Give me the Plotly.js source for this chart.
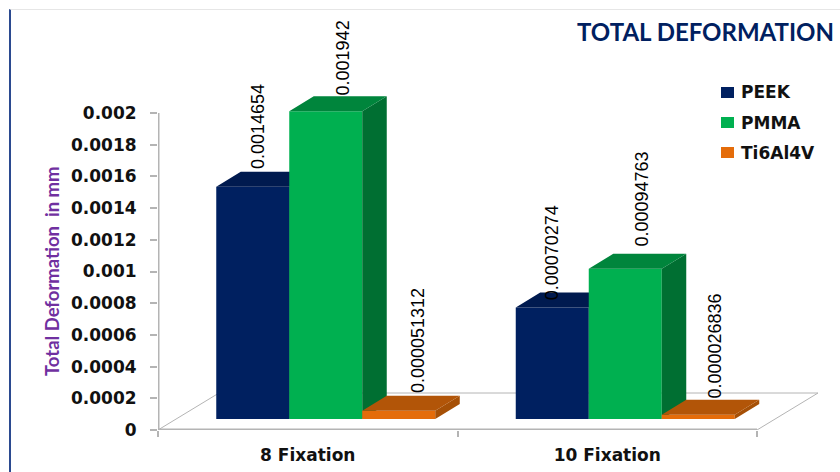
<!DOCTYPE html>
<html>
<head>
<meta charset="utf-8">
<script src="https://cdn.plot.ly/plotly-3.0.1.min.js"></script>
<style>
  html, body { margin: 0; padding: 0; background: #fff; width: 840px; height: 472px; overflow: hidden; }
  #frame { position: absolute; left: 9px; top: 9px; right: 0; bottom: 0; border-left: 2px solid #2b4a90; border-top: 1px solid #e6e6e6; }
  #chart { position: absolute; left: 0; top: 0; width: 840px; height: 472px; }
</style>
</head>
<body>
<div id="frame"></div>
<div id="chart"></div>
<script>
// Deformation results per fixation count and material
const categories = ["8 Fixation", "10 Fixation"];
const seriesNames = ["PEEK", "PMMA", "Ti6Al4V"];
const peekValues = [0.0014654, 0.00070274];
const pmmaValues = [0.001942, 0.00094763];
const tiValues = [0.000051312, 0.000026836];
const yTickValues = [0, 0.0002, 0.0004, 0.0006, 0.0008, 0.001, 0.0012, 0.0014, 0.0016, 0.0018, 0.002];
const yTickLabels = ["0", "0.0002", "0.0004", "0.0006", "0.0008", "0.001", "0.0012", "0.0014", "0.0016", "0.0018", "0.002"];

// Colours for front, top and side of each material's column
const frontColors = ["#002060", "#00b050", "#e46c0a"];
const topColors = ["#001a4f", "#00853c", "#b25508"];
const sideColors = ["#00174a", "#006f32", "#a65006"];

// Plot box and pseudo-3D geometry, expressed in axis units
const W = 840, H = 472;
const plotLeft = 158, axisRight = 757, plotRight = 832, plotTop = 10, plotBottom = 430;
const pxPerX = (axisRight - plotLeft) / 2;
const pxPerY = 317 / 0.002;
const xRange = [0, (plotRight - plotLeft) / pxPerX];
const yRange = [0, (plotBottom - plotTop) / pxPerY];
const barWidth = 73 / pxPerX;
const barStep = barWidth;
const groupShift = 18 / pxPerX;
const barBase = 11 / pxPerY;
const depthX = 24.5 / pxPerX;
const depthY = 15 / pxPerY;
const floorX = 61 / pxPerX;
const floorY = 37 / pxPerY;
const groupCentres = [0.5, 1.5];
const allValues = [peekValues, pmmaValues, tiValues];
const lineGray = "#b4b4b4";

const traces = [];

// Floor outline and the two axis lines
traces.push({
  x: [0, floorX, 2 + floorX, 2], y: [0, floorY, floorY, 0],
  mode: "lines", line: { color: lineGray, width: 1 },
  showlegend: false, hoverinfo: "skip", xaxis: "x", yaxis: "y"
});
traces.push({
  x: [0, 0, null, 0, 2], y: [0.002, 0, null, 0, 0],
  mode: "lines", line: { color: lineGray, width: 3 },
  showlegend: false, hoverinfo: "skip", xaxis: "x", yaxis: "y"
});

const overlayAxes = {};
seriesNames.forEach(function (name, s) {
  const suffix = String(s + 2);
  const xa = "x" + suffix, ya = "y" + suffix;
  overlayAxes["xaxis" + suffix] = { overlaying: "x", anchor: ya, range: xRange, visible: false, fixedrange: true };
  overlayAxes["yaxis" + suffix] = { overlaying: "y", anchor: xa, range: yRange, visible: false, fixedrange: true };

  const values = allValues[s];
  const centres = groupCentres.map(function (c) { return c + groupShift + (s - 1) * barStep; });

  traces.push({
    type: "bar", name: name, x: centres, y: values, base: barBase, width: barWidth,
    marker: { color: frontColors[s] }, showlegend: false, xaxis: xa, yaxis: ya,
    customdata: categories, hovertemplate: "%{customdata}<br>" + name + ": %{y}<extra></extra>"
  });

  const topX = [], topY = [], sideX = [], sideY = [];
  values.forEach(function (v, i) {
    const xl = centres[i] - barWidth / 2, xr = centres[i] + barWidth / 2, t = barBase + v;
    topX.push(xl, xl + depthX, xr + depthX, xr, xl, null);
    topY.push(t, t + depthY, t + depthY, t, t, null);
    sideX.push(xr, xr + depthX, xr + depthX, xr, xr, null);
    sideY.push(t, t + depthY, barBase + depthY, barBase, t, null);
  });
  [[sideX, sideY, sideColors[s]], [topX, topY, topColors[s]]].forEach(function (f) {
    traces.push({
      x: f[0], y: f[1], mode: "lines", fill: "toself", fillcolor: f[2], line: { width: 0, color: f[2] },
      showlegend: false, hoverinfo: "skip", xaxis: xa, yaxis: ya
    });
  });
});

// Rotated value labels above each column
const annotations = [];
const labelFont = { family: "'Liberation Sans', sans-serif", size: 18, color: "#000" };
const labelShiftX = [[5, 17, 20], [0, 17, 17]];
const labelShiftY = [[17, 15, 17], [6, 21, 15]];
seriesNames.forEach(function (name, s) {
  allValues[s].forEach(function (v, i) {
    annotations.push({
      xref: "x", yref: "y",
      x: groupCentres[i] + groupShift + (s - 1) * barStep + labelShiftX[i][s] / pxPerX,
      y: barBase + v + labelShiftY[i][s] / pxPerY,
      text: String(v), textangle: -90, showarrow: false,
      xanchor: "center", yanchor: "bottom", font: labelFont, borderpad: 0
    });
  });
});
annotations.push({
  xref: "paper", yref: "paper",
  x: (52 - plotLeft) / (plotRight - plotLeft), y: (plotBottom - 271) / (plotBottom - plotTop),
  text: "Total Deformation  in mm", textangle: -90, showarrow: false,
  xanchor: "center", yanchor: "middle",
  font: { family: "Lato, sans-serif", size: 18.5, color: "#7030a0", weight: 700 }
});

const tickFont = { family: "'DejaVu Sans', sans-serif", size: 17, color: "#111", weight: 700 };

// Key at the upper right: a square swatch and a name per material
const keyRowsY = [92.5, 122.5, 152.5];
const keyShapes = seriesNames.map(function (name, s) {
  return {
    type: "rect", xref: "paper", yref: "paper", layer: "above", line: { width: 0 }, fillcolor: frontColors[s],
    x0: (721 - plotLeft) / (plotRight - plotLeft), x1: (734 - plotLeft) / (plotRight - plotLeft),
    y0: (plotBottom - keyRowsY[s] - 5.5) / (plotBottom - plotTop), y1: (plotBottom - keyRowsY[s] + 5.5) / (plotBottom - plotTop)
  };
});
seriesNames.forEach(function (name, s) {
  annotations.push({
    xref: "paper", yref: "paper", showarrow: false, text: name, font: tickFont,
    x: (739.5 - plotLeft) / (plotRight - plotLeft), xanchor: "left",
    y: (plotBottom - keyRowsY[s]) / (plotBottom - plotTop), yanchor: "middle", borderpad: 0
  });
});

const layout = Object.assign({
  width: W, height: H,
  margin: { l: plotLeft, r: W - plotRight, t: plotTop, b: H - plotBottom, pad: 0 },
  paper_bgcolor: "rgba(0,0,0,0)", plot_bgcolor: "rgba(0,0,0,0)",
  barmode: "overlay", showlegend: false,
  title: {
    text: "TOTAL DEFORMATION", x: 834 / W, xanchor: "right", y: 1 - 33 / H, yanchor: "middle",
    font: { family: "Lato, sans-serif", size: 24, color: "#002060", weight: 700 }
  },
  xaxis: {
    range: xRange, tickvals: groupCentres, ticktext: categories, ticks: "", showgrid: false,
    zeroline: false, showline: false, tickfont: tickFont, ticklabelstandoff: 13, fixedrange: true,
    minor: { tick0: 0, dtick: 1, ticks: "outside", ticklen: 6, tickcolor: lineGray, tickwidth: 1.5, showgrid: false }
  },
  yaxis: {
    range: yRange, tickvals: yTickValues, ticktext: yTickLabels, ticks: "outside", ticklen: 7,
    tickcolor: lineGray, tickwidth: 1.5, showgrid: false, zeroline: false, showline: false,
    tickfont: tickFont, ticklabelstandoff: 10, fixedrange: true
  },
  shapes: keyShapes,
  annotations: annotations
}, overlayAxes);

Plotly.newPlot("chart", traces, layout, { displayModeBar: false, responsive: false });
</script>
</body>
</html>
